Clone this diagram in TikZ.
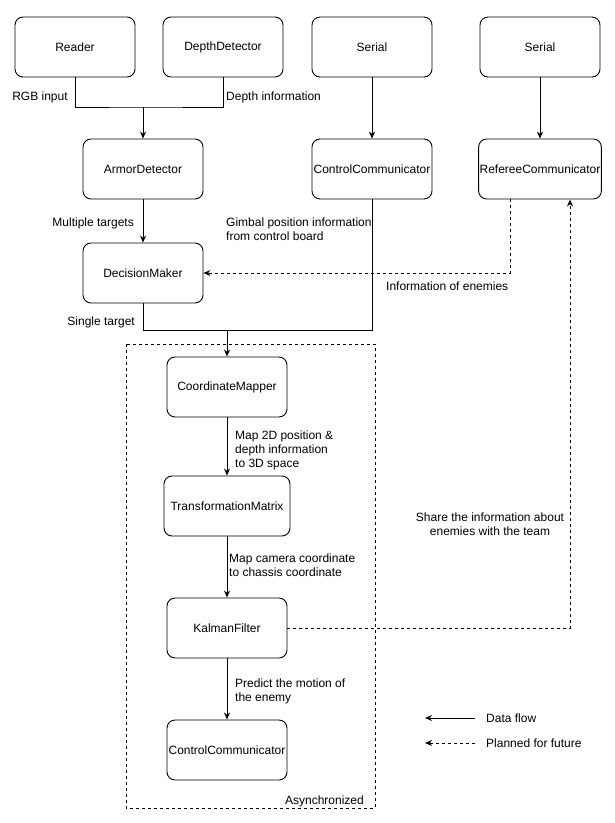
\documentclass[tikz,border=0pt]{standalone}
\usepackage{fontspec}
\setmainfont{Liberation Sans}
\usetikzlibrary{arrows.meta}

\begin{document}
\begin{tikzpicture}
      [%%%%%%%%%%%%%%%%%%%%%%%%%%%%%%
      x=1pt, y=-1pt,
      every node/.style={font=\fontsize{12}{14}\selectfont},
      module/.style={rectangle,draw=black,rounded corners=8pt,line width=0.9pt,
                     minimum width=120pt,minimum height=60pt,inner sep=1pt},
      note/.style={inner sep=0pt,align=left},
      flow/.style={line width=0.9pt,-{Stealth[length=7pt,width=6pt]}},
      future/.style={flow,dash pattern=on 3pt off 3pt},
      ]%%%%%%%%%%%%%%%%%%%%%%%%%%%%%%
      \useasboundingbox (0,0) rectangle (615,823);

      % sources
      \node[module] (reader)  at (75,47)  {Reader};
      \node[module] (depth)   at (223,47) {DepthDetector};
      \node[module] (serialA) at (372,47) {Serial};
      \node[module] (serialB) at (540,47) {Serial};

      % detection and communication
      \node[module] (armor)    at (143,169) {ArmorDetector};
      \node[module] (ctrlA)    at (372,169) {ControlCommunicator};
      \node[module] (referee)  at (540,169) {RefereeCommunicator};
      \node[module] (decision) at (143,273) {DecisionMaker};

      % asynchronized part
      \draw[line width=0.9pt,dash pattern=on 3pt off 3pt] (126,344) rectangle (375,808);
      \node[note,anchor=east] (async) at (364,801) {Asynchronized};
      \node[module] (mapper) at (227,387) {CoordinateMapper};
      \node[module,minimum width=126pt] (trans) at (227,506) {TransformationMatrix};
      \node[module] (kalman) at (227,628) {KalmanFilter};
      \node[module] (ctrlB)  at (227,750) {ControlCommunicator};

      \coordinate (join)  at (143,107);
      \coordinate (merge) at (227,330);

      \draw[line width=0.9pt] (reader.south) |- (join) -| (depth.south);
      \draw[flow] (join) -- (armor.north);
      \draw[flow] (serialA) -- (ctrlA);
      \draw[flow] (serialB) -- (referee);
      \draw[flow] (armor) -- (decision);
      \draw[line width=0.9pt] (decision.south) |- (merge);
      \draw[line width=0.9pt] (ctrlA.south) |- (merge);
      \draw[flow] (merge) -- (mapper.north);
      \draw[flow] (mapper) -- (trans);
      \draw[flow] (trans) -- (kalman);
      \draw[flow] (kalman) -- (ctrlB);
      \draw[future] ([xshift=-30pt]referee.south) |- (decision.east);
      \draw[future] (kalman.east) -| ([xshift=30pt]referee.south);

      % labels
      \node[note] (rgb) at (40,97) {RGB input};
      \node[note,anchor=west] (depthinfo) at (226,97) {Depth information};
      \node[note,anchor=east] (multi) at (134,223) {Multiple targets};
      \node[note,anchor=west] (gimbal) at (226,229) {Gimbal position information\\from control board};
      \node[note,anchor=west] (enemies) at (386,286) {Information of enemies};
      \node[note,anchor=east] (single) at (135,322) {Single target};
      \node[note,anchor=west] (map2d) at (235,450) {Map 2D position \&\\depth information\\to 3D space};
      \node[note,anchor=west] (mapcam) at (229,565) {Map camera coordinate\\to chassis coordinate};
      \node[note,anchor=west] (predict) at (235,691) {Predict the motion of\\the enemy};
      \node[note,align=center] (share) at (490,524) {Share the information about\\enemies with the team};

      % legend
      \node[note,anchor=west] (lgflow)   at (486,718) {Data flow};
      \node[note,anchor=west] (lgfuture) at (486,743) {Planned for future};
      \coordinate (lgflowend)   at (425,718);
      \coordinate (lgfutureend) at (425,743);
      \draw[flow]   ([xshift=-11pt]lgflow.west) -- (lgflowend);
      \draw[future] ([xshift=-11pt]lgfuture.west) -- (lgfutureend);
    \end{tikzpicture}
\end{document}
